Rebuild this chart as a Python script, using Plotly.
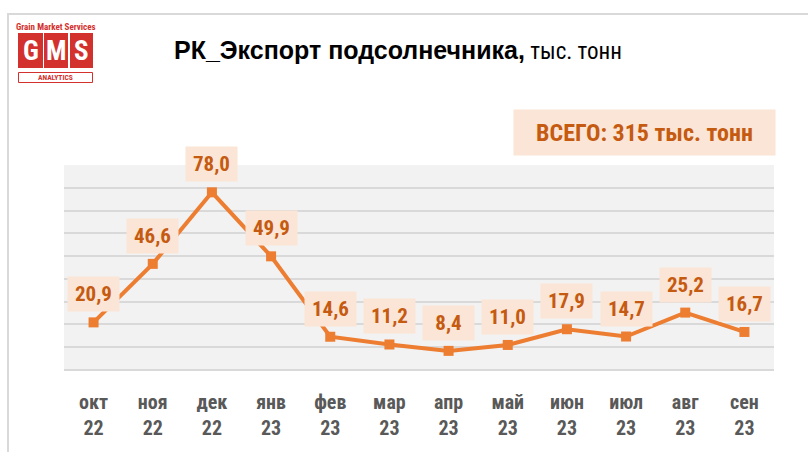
import plotly.graph_objects as go

months = ["окт", "ноя", "дек", "янв", "фев", "мар", "апр", "май", "июн", "июл", "авг", "сен"]
years = ["22", "22", "22", "23", "23", "23", "23", "23", "23", "23", "23", "23"]
values = [20.9, 46.6, 78.0, 49.9, 14.6, 11.2, 8.4, 11.0, 17.9, 14.7, 25.2, 16.7]
total_text = "ВСЕГО: 315 тыс. тонн"
title_bold = "РК_Экспорт подсолнечника,"
title_unit = " тыс. тонн"

categories = [f"<b>{m}<br>{y}</b>" for m, y in zip(months, years)]
labels = [f"{v:.1f}".replace(".", ",") for v in values]

W, H = 808, 452
L, R, T, B = 64, 774, 165, 370
NARROW = "Roboto Condensed, Liberation Sans Narrow, Arial Narrow, sans-serif"
WIDE = "Liberation Sans, Arial, sans-serif"
ORANGE = "#ed7d31"
DARK_ORANGE = "#c55a11"
PEACH = "#fbe5d6"
RED = "#d3312d"


def px(x):
    return (x - L) / (R - L)


def py(y):
    return (B - y) / (B - T)


fig = go.Figure()
fig.add_trace(go.Scatter(
    x=categories, y=values, mode="lines+markers",
    line=dict(color=ORANGE, width=4),
    marker=dict(symbol="square", size=10, color=ORANGE),
    hoverinfo="skip", showlegend=False,
))

annotations = []
for c, v, lab in zip(categories, values, labels):
    annotations.append(dict(
        x=c, y=v, xref="x", yref="y", text=f"<b>{lab}</b>", showarrow=False,
        yshift=28, width=49, height=32, bgcolor=PEACH,
        font=dict(family=NARROW, size=21, color=DARK_ORANGE),
        xanchor="center", yanchor="middle",
    ))

# total box
annotations.append(dict(
    x=px(644.5), y=py(132.5), xref="paper", yref="paper",
    text=f"<b>{total_text}</b>", showarrow=False, width=259, height=43,
    bgcolor=PEACH, font=dict(family=NARROW, size=24, color=DARK_ORANGE),
    xanchor="center", yanchor="middle",
))

# title
annotations.append(dict(
    x=px(172), y=py(51), xref="paper", yref="paper",
    text=(f"<span style='font-family:{WIDE};font-size:25px'><b>{title_bold}</b></span>"
          f"<span style='font-family:{NARROW};font-size:23px'>{title_unit}</span>"),
    showarrow=False,
    font=dict(family=NARROW, size=24, color="#000000"),
    xanchor="left", yanchor="middle",
))

# logo texts
annotations.append(dict(
    x=px(55.5), y=py(26.5), xref="paper", yref="paper",
    text="<b>Grain Market Services</b>", showarrow=False,
    font=dict(family=NARROW, size=9, color=RED),
    xanchor="center", yanchor="middle",
))
for letter, x0, x1 in [("G", 18, 43), ("M", 44, 68), ("S", 70, 93)]:
    annotations.append(dict(
        x=px((x0 + x1) / 2), y=py(51), xref="paper", yref="paper",
        text=f"<b>{letter}</b>", showarrow=False,
        font=dict(family=NARROW, size=27, color="#ffffff"),
        xanchor="center", yanchor="middle",
    ))
annotations.append(dict(
    x=px(55.5), y=py(77.5), xref="paper", yref="paper",
    text="<b>ANALYTICS</b>", showarrow=False,
    font=dict(family=NARROW, size=7.5, color=RED),
    xanchor="center", yanchor="middle",
))

shapes = [
    dict(type="line", xref="paper", yref="paper", x0=px(8), x1=px(808), y0=py(14), y1=py(14),
         line=dict(color="#d9d9d9", width=2)),
    dict(type="line", xref="paper", yref="paper", x0=px(8), x1=px(8), y0=py(13), y1=py(452),
         line=dict(color="#d9d9d9", width=2)),
]
for x0, x1 in [(18, 43), (44, 68), (70, 93)]:
    shapes.append(dict(type="rect", xref="paper", yref="paper", x0=px(x0), x1=px(x1),
                       y0=py(33), y1=py(68), fillcolor=RED, line=dict(width=0)))
shapes.append(dict(type="rect", xref="paper", yref="paper", x0=px(18.5), x1=px(92.5),
                   y0=py(72.5), y1=py(82.5), fillcolor="#ffffff", line=dict(color=RED, width=1)))

fig.update_layout(
    width=W, height=H,
    margin=dict(l=L, r=W - R, t=T, b=H - B, pad=0),
    paper_bgcolor="#ffffff", plot_bgcolor="#f2f2f2",
    annotations=annotations, shapes=shapes,
    xaxis=dict(
        type="category", range=[-0.5, len(categories) - 0.5],
        showgrid=False, showline=False, zeroline=False,
        ticks="outside", ticklen=14, tickcolor="rgba(0,0,0,0)",
        tickfont=dict(family=NARROW, size=20, color="#595959"),
        fixedrange=True,
    ),
    yaxis=dict(
        range=[0, 90], dtick=10, showticklabels=False,
        showgrid=True, gridcolor="#d9d9d9", gridwidth=2,
        zeroline=True, zerolinecolor="#d9d9d9", zerolinewidth=2,
        showline=False, fixedrange=True,
    ),
)

fig.write_html(
    "out.html", config={"displayModeBar": False},
    post_script="document.body.style.margin='0px';document.body.style.padding='0px';",
)
